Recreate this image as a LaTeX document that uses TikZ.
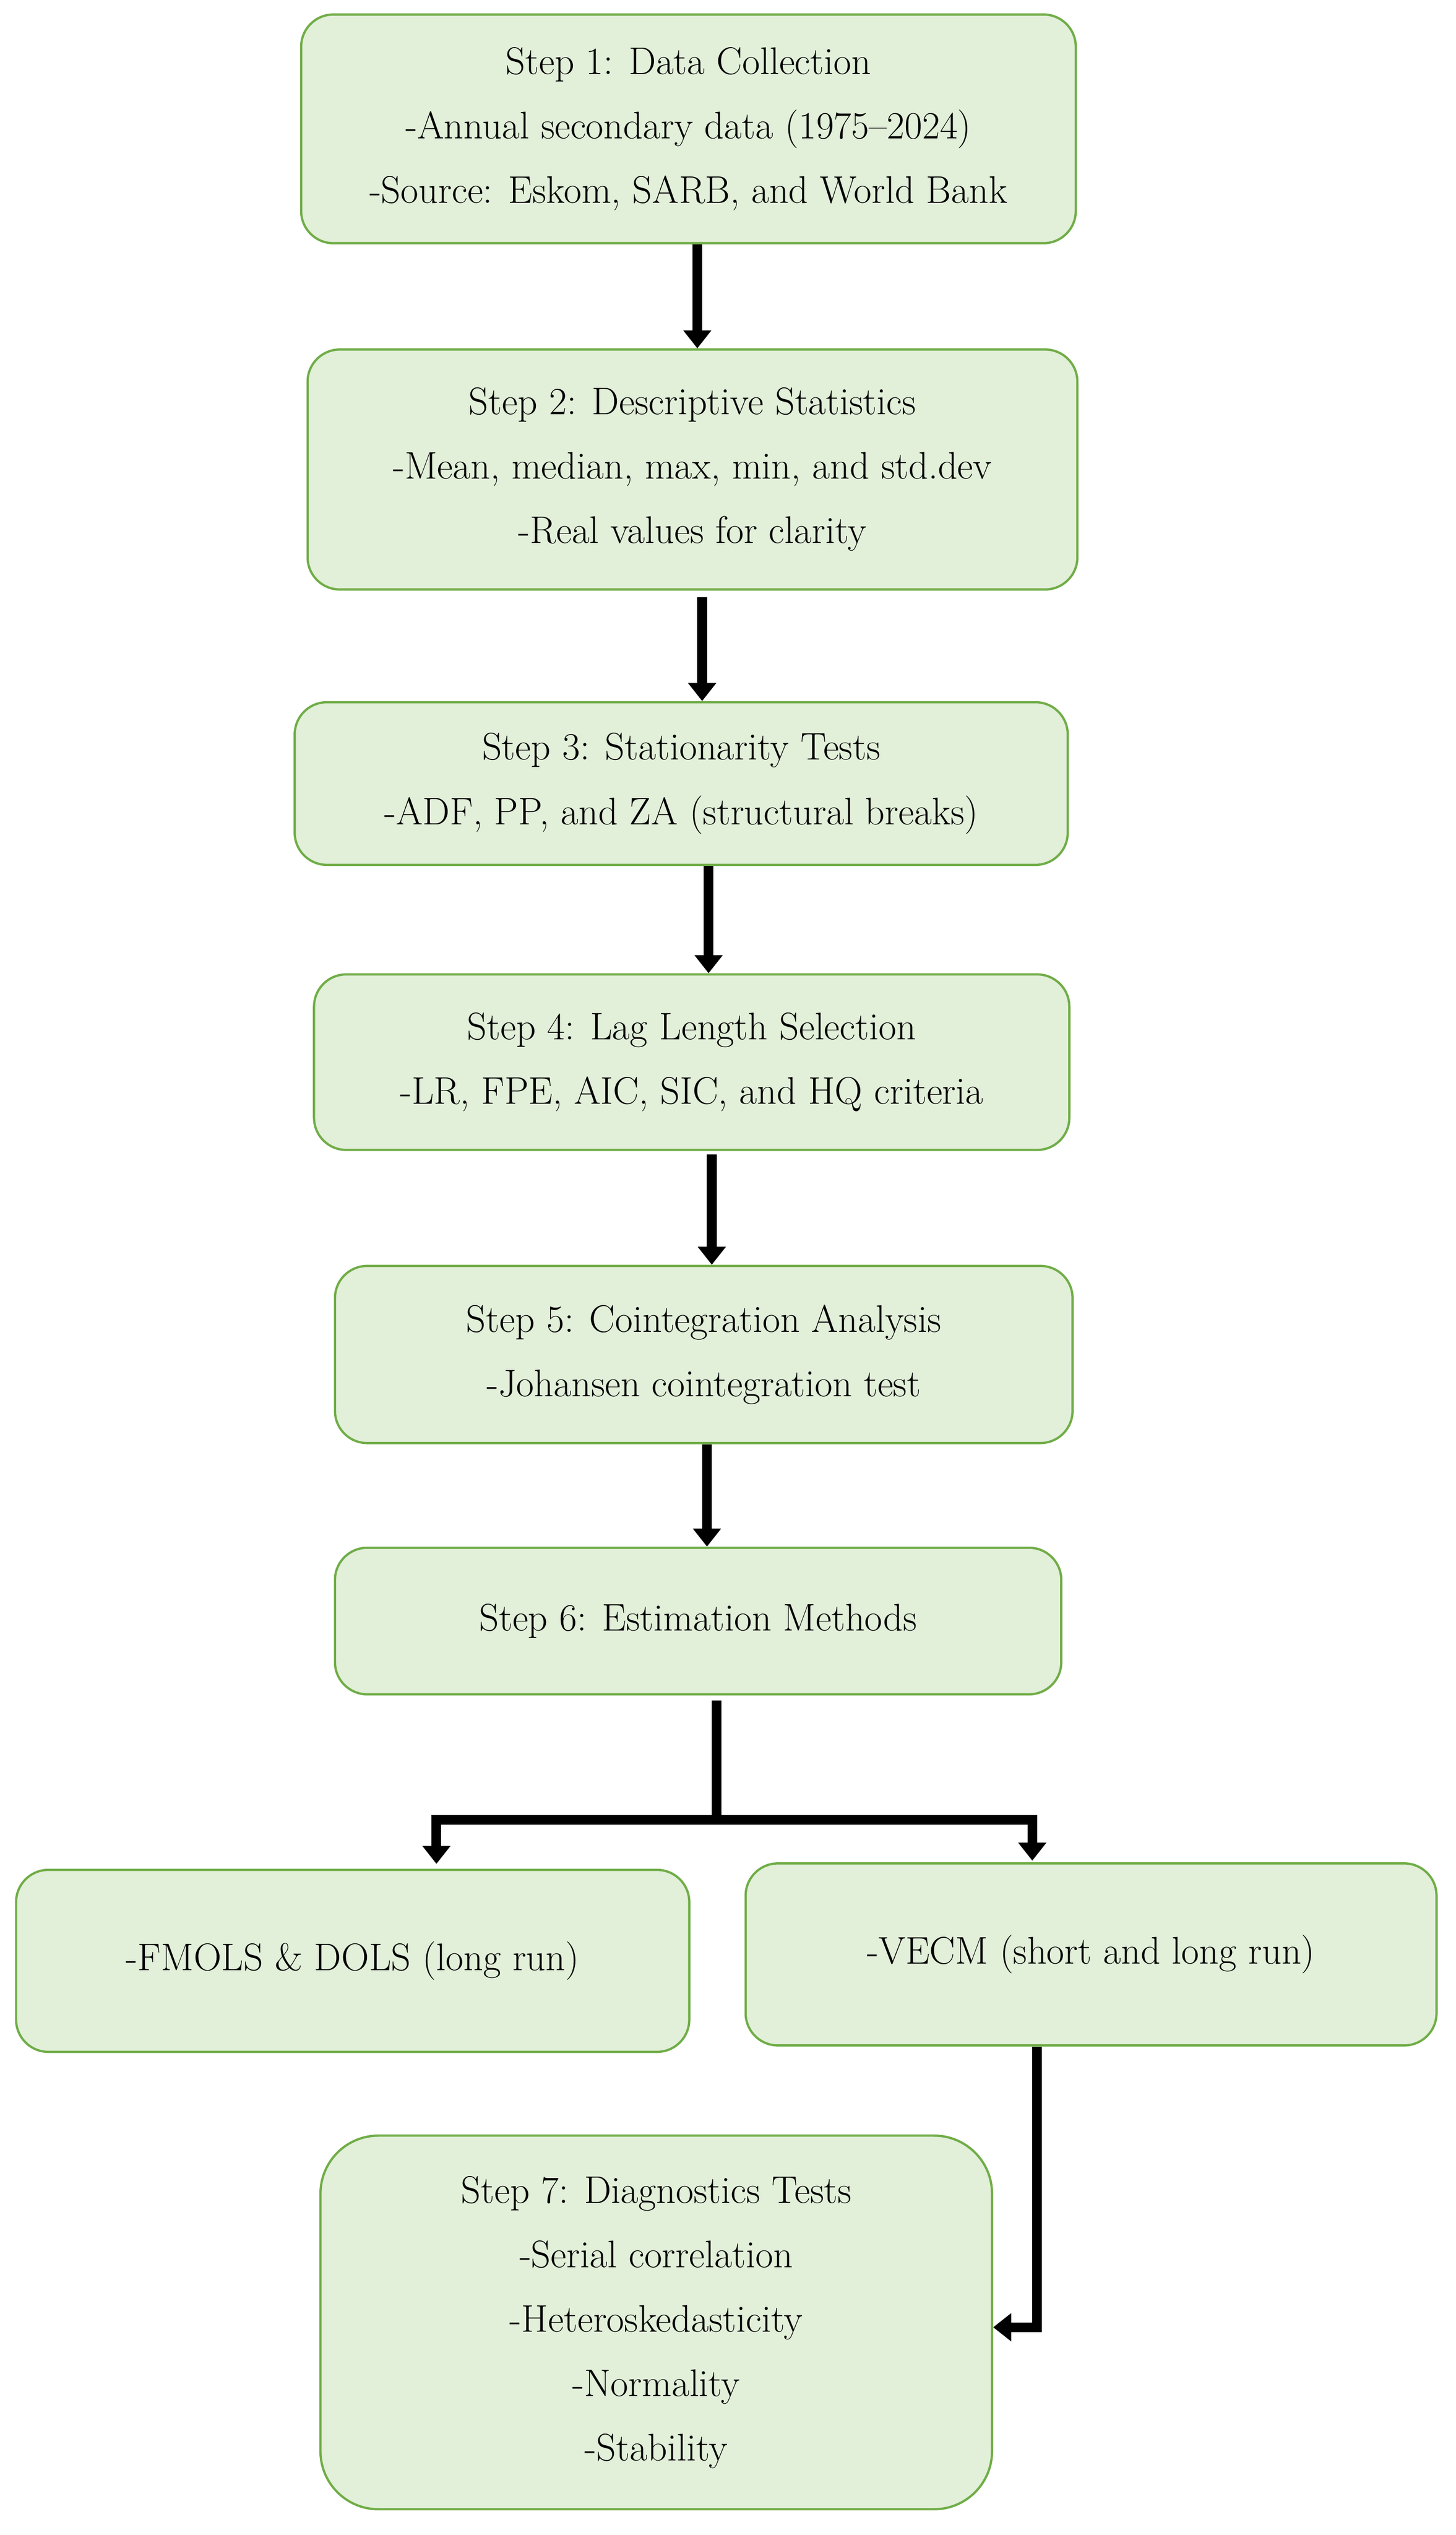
\documentclass[tikz,border=0pt]{standalone}
\usetikzlibrary{arrows.meta}
\definecolor{boxfill}{HTML}{E2EFD9}
\definecolor{boxdraw}{HTML}{70AD47}
\begin{document}
\begin{tikzpicture}[x=0.025cm,y=-0.025cm,
  box/.style={draw=boxdraw,fill=boxfill,line width=1pt,rounded corners=0.5cm,align=center,inner sep=0pt,
    font=\fontsize{17}{28.45}\selectfont},
  arr/.style={line width=4.3pt,line join=miter,-{Triangle[width=0.42cm,length=0.28cm]}},
  seg/.style={line width=4.3pt,line join=miter}]
\useasboundingbox (0,0) rectangle (904,1574);
\node[box,minimum width=481*0.025cm,minimum height=142*0.025cm] (n1) at (427.5,80) {Step 1: Data Collection\\-Annual secondary data (1975--2024)\\-Source: Eskom, SARB, and World Bank};
\node[box,minimum width=478*0.025cm,minimum height=149*0.025cm] (n2) at (430,291.5) {Step 2: Descriptive Statistics\\-Mean, median, max, min, and std.dev\\-Real values for clarity};
\node[box,minimum width=480*0.025cm,minimum height=101*0.025cm] (n3) at (423,486.5) {Step 3: Stationarity Tests\\-ADF, PP, and ZA (structural breaks)};
\node[box,minimum width=469*0.025cm,minimum height=109*0.025cm] (n4) at (429.5,659.5) {Step 4: Lag Length Selection\\-LR, FPE, AIC, SIC, and HQ criteria};
\node[box,minimum width=458*0.025cm,minimum height=110*0.025cm] (n5) at (437,841) {Step 5: Cointegration Analysis\\-Johansen cointegration test};
\node[box,minimum width=451*0.025cm,minimum height=91*0.025cm] (n6) at (433.5,1006.5) {Step 6: Estimation Methods};
\node[box,minimum width=418*0.025cm,minimum height=113*0.025cm] (n7a) at (219,1217.5) {-FMOLS \& DOLS (long run)};
\node[box,minimum width=429*0.025cm,minimum height=113*0.025cm] (n7b) at (677.5,1213.5) {-VECM (short and long run)};
\node[box,minimum width=417*0.025cm,minimum height=232*0.025cm,rounded corners=0.9cm] (n8) at (407.5,1442) {Step 7: Diagnostics Tests\\-Serial correlation\\-Heteroskedasticity\\-Normality\\-Stability};
\draw[arr] (n1.south -| 433,0) -- (n2.north -| 433,0);
\draw[arr] ([yshift=-4*0.025cm]n2.south -| 436,0) -- (n3.north -| 436,0);
\draw[arr] (n3.south -| 440,0) -- (n4.north -| 440,0);
\draw[arr] ([yshift=-2*0.025cm]n4.south -| 442,0) -- (n5.north -| 442,0);
\draw[arr] (n5.south -| 439,0) -- (n6.north -| 439,0);
\coordinate (j) at (445,1130);
\draw[seg] ([yshift=-3*0.025cm]n6.south -| j) -- (j);
\draw[arr] ([xshift=2pt]j) -| ([yshift=3*0.025cm]n7a.north -| 271,0);
\draw[arr] ([xshift=-2pt]j) -| ([yshift=1*0.025cm]n7b.north -| 641,0);
\coordinate (k) at (644,1445);
\draw[arr] (n7b.south -| k) |- (n8.east |- k);
\end{tikzpicture}
\end{document}
